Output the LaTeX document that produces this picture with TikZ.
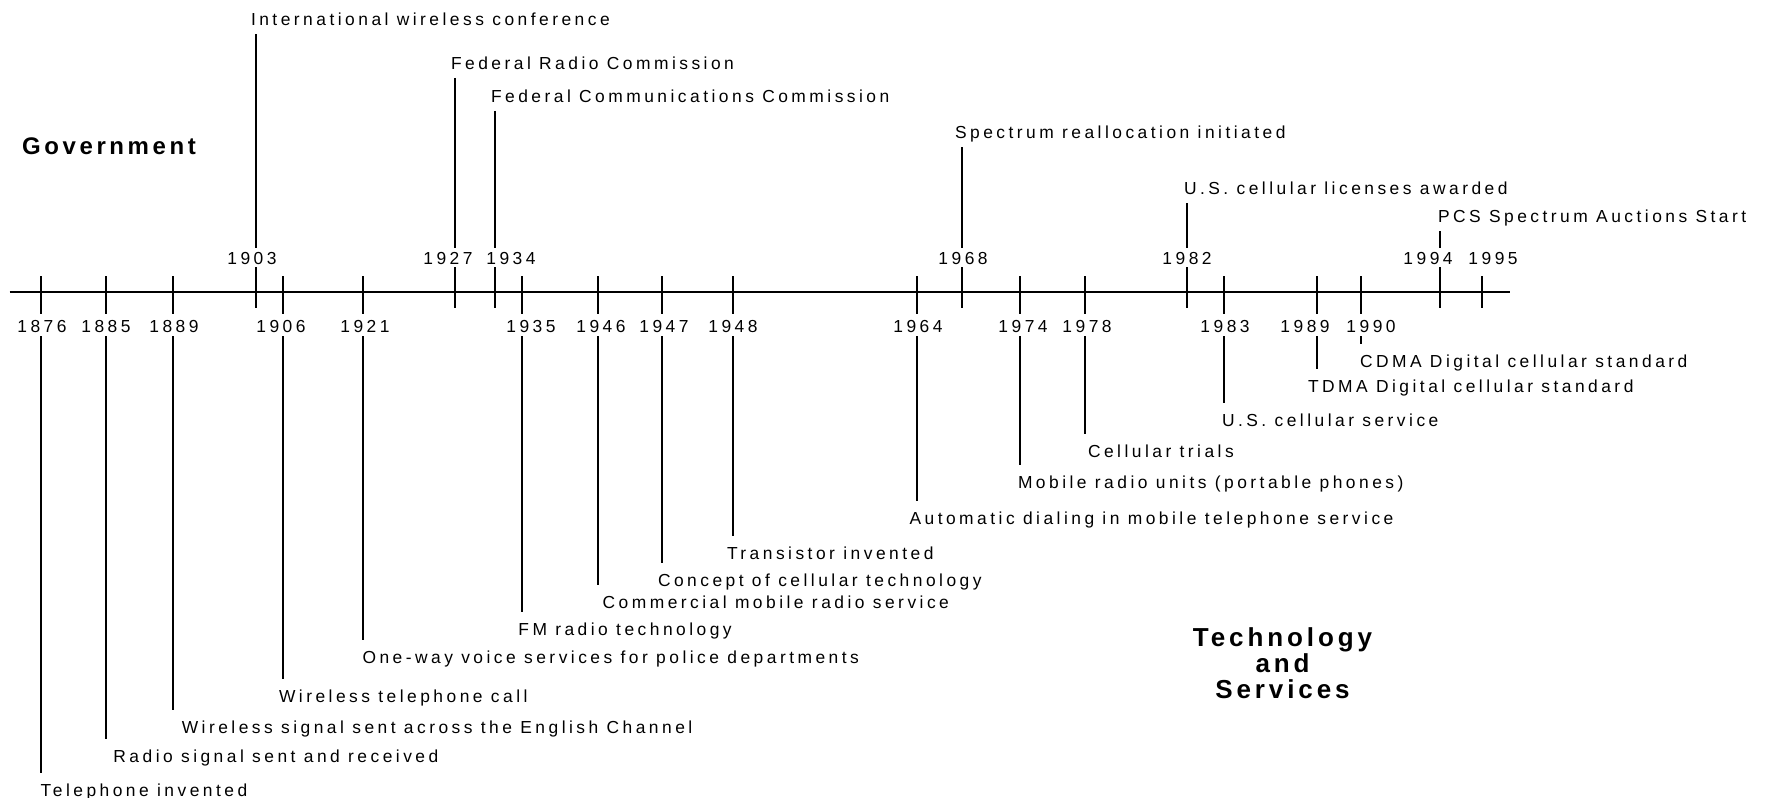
\documentclass[tikz,border=0pt]{standalone}
\usepackage{fontspec}
\newfontfamily\labelfont[LetterSpace=20]{Liberation Sans}
\newfontfamily\headfont[LetterSpace=15]{Liberation Sans}

\begin{document}
\begin{tikzpicture}[
  x=0.5pt, y=-0.5pt,
  axis/.style={line width=1.3pt},
  tick/.style={line width=1pt},
  stem/.style={line width=1pt},
  yearlabel/.style={
    font=\labelfont\fontsize{8.7}{10}\selectfont,
    inner sep=0pt,
    text height=6.2pt,
    text depth=0pt,
    outer sep=2pt
  },
  eventlabel/.style={
    font=\labelfont\fontsize{8.7}{10}\selectfont,
    anchor=west,
    inner sep=0pt,
    text height=6.2pt,
    text depth=0pt,
    outer xsep=0pt
  },
  govlabel/.style={eventlabel, outer ysep=4.4pt},
  techlabel/.style={eventlabel, outer ysep=5.6pt},
  heading/.style={
    align=center,
    inner sep=0pt
  }
]
\useasboundingbox (0,0) rectangle (1765,797);

% Axis
\draw[axis] (9.6,292) -- (1510,292);

% Headings
\node[heading, font=\headfont\bfseries\fontsize{12}{13}\selectfont] (gov) at (109,146.5) {Government};
\node[heading, font=\headfont\bfseries\fontsize{13}{13}\selectfont] (tech) at (1282.5,663) {Technology\\and\\Services};

% Tick positions on the axis
\coordinate (t1876) at (41,292);
\coordinate (t1885) at (105.6,292);
\coordinate (t1889) at (173,292);
\coordinate (t1903) at (255.6,292);
\coordinate (t1906) at (283.2,292);
\coordinate (t1921) at (362.8,292);
\coordinate (t1927) at (455.4,292);
\coordinate (t1934) at (495.2,292);
\coordinate (t1935) at (522.4,292);
\coordinate (t1946) at (597.5,292);
\coordinate (t1947) at (662.3,292);
\coordinate (t1948) at (732.7,292);
\coordinate (t1964) at (917.2,292);
\coordinate (t1968) at (961.9,292);
\coordinate (t1974) at (1019.7,292);
\coordinate (t1978) at (1085.2,292);
\coordinate (t1982) at (1187,292);
\coordinate (t1983) at (1224.4,292);
\coordinate (t1989) at (1316.6,292);
\coordinate (t1990) at (1361.4,292);
\coordinate (t1994) at (1439.7,292);
\coordinate (t1995) at (1482.1,292);

% Ticks
\draw[tick] (t1903) ++(0,-25) -- ++(0,41);
\draw[tick] (t1927) ++(0,-25) -- ++(0,41);
\draw[tick] (t1934) ++(0,-25) -- ++(0,41);
\draw[tick] (t1968) ++(0,-25) -- ++(0,41);
\draw[tick] (t1982) ++(0,-25) -- ++(0,41);
\draw[tick] (t1994) ++(0,-25) -- ++(0,41);
\draw[tick] (t1995) ++(0,-16) -- ++(0,32);
\draw[tick] (t1876) ++(0,-16) -- ++(0,38);
\draw[tick] (t1885) ++(0,-16) -- ++(0,38);
\draw[tick] (t1889) ++(0,-16) -- ++(0,38);
\draw[tick] (t1906) ++(0,-16) -- ++(0,38);
\draw[tick] (t1921) ++(0,-16) -- ++(0,38);
\draw[tick] (t1935) ++(0,-16) -- ++(0,38);
\draw[tick] (t1946) ++(0,-16) -- ++(0,38);
\draw[tick] (t1947) ++(0,-16) -- ++(0,38);
\draw[tick] (t1948) ++(0,-16) -- ++(0,38);
\draw[tick] (t1964) ++(0,-16) -- ++(0,38);
\draw[tick] (t1974) ++(0,-16) -- ++(0,38);
\draw[tick] (t1978) ++(0,-16) -- ++(0,38);
\draw[tick] (t1983) ++(0,-16) -- ++(0,38);
\draw[tick] (t1989) ++(0,-16) -- ++(0,38);
\draw[tick] (t1990) ++(0,-16) -- ++(0,38);

% Years above the axis
\node[yearlabel] (y1903) at (252,258.5)   {1903};
\node[yearlabel] (y1927) at (448,258.5)   {1927};
\node[yearlabel] (y1934) at (511,258.5)   {1934};
\node[yearlabel] (y1968) at (963,258.5)   {1968};
\node[yearlabel] (y1982) at (1187,258.5)  {1982};
\node[yearlabel] (y1994) at (1428,258.5)  {1994};
\node[yearlabel] (y1995) at (1493,258.5)  {1995};

% Years below the axis
\node[yearlabel] (y1876) at (42,326)     {1876};
\node[yearlabel] (y1885) at (106,326)    {1885};
\node[yearlabel] (y1889) at (174,326)    {1889};
\node[yearlabel] (y1906) at (281,326)    {1906};
\node[yearlabel] (y1921) at (365,326)    {1921};
\node[yearlabel] (y1935) at (531,326)    {1935};
\node[yearlabel] (y1946) at (601,326)    {1946};
\node[yearlabel] (y1947) at (664,326)    {1947};
\node[yearlabel] (y1948) at (733,326)    {1948};
\node[yearlabel] (y1964) at (918,326)    {1964};
\node[yearlabel] (y1974) at (1023,326)   {1974};
\node[yearlabel] (y1978) at (1087,326)   {1978};
\node[yearlabel] (y1983) at (1225,326)   {1983};
\node[yearlabel] (y1989) at (1305,326)   {1989};
\node[yearlabel] (y1990) at (1371,326)   {1990};

% Government events
\node[govlabel] (e1903) at (251,19.5) {International wireless conference};
\node[govlabel] (e1927) at (451,63)   {Federal Radio Commission};
\node[govlabel] (e1934) at (491,96)   {Federal Communications Commission};
\node[govlabel] (e1968) at (955,132)  {Spectrum reallocation initiated};
\node[govlabel] (e1982) at (1184,188) {U.S. cellular licenses awarded};
\node[govlabel] (e1994) at (1438,216) {PCS Spectrum Auctions Start};

% Technology and services events
\node[techlabel] (e1876) at (40.7,790)    {Telephone invented};
\node[techlabel] (e1885) at (113.4,756.7) {Radio signal sent and received};
\node[techlabel] (e1889) at (181.8,727.7) {Wireless signal sent across the English Channel};
\node[techlabel] (e1906) at (279,696)     {Wireless telephone call};
\node[techlabel] (e1921) at (362.5,657)   {One-way voice services for police departments};
\node[techlabel] (e1935) at (518.4,629)   {FM radio technology};
\node[techlabel] (e1946) at (602.6,602.7) {Commercial mobile radio service};
\node[techlabel] (e1947) at (658,580)     {Concept of cellular technology};
\node[techlabel] (e1948) at (727,553)     {Transistor invented};
\node[techlabel] (e1964) at (909.5,518)   {Automatic dialing in mobile telephone service};
\node[techlabel] (e1974) at (1018,482.7)  {Mobile radio units (portable phones)};
\node[techlabel] (e1978) at (1088,451.7)  {Cellular trials};
\node[techlabel] (e1983) at (1222,420.7)  {U.S. cellular service};
\node[techlabel] (e1989) at (1308,386)    {TDMA Digital cellular standard};
\node[techlabel] (e1990) at (1360,361.7)  {CDMA Digital cellular standard};

% Stems above the axis
\draw[stem] (e1903.south -| t1903) -- (y1903.north -| t1903);
\draw[stem] (e1927.south -| t1927) -- (y1927.north -| t1927);
\draw[stem] (e1934.south -| t1934) -- (y1934.north -| t1934);
\draw[stem] (e1968.south -| t1968) -- (y1968.north -| t1968);
\draw[stem] (e1982.south -| t1982) -- (y1982.north -| t1982);
\draw[stem] (e1994.south -| t1994) -- (y1994.north -| t1994);

% Stems below the axis
\draw[stem] (y1876.south -| t1876) -- (e1876.north -| t1876);
\draw[stem] (y1885.south -| t1885) -- (e1885.north -| t1885);
\draw[stem] (y1889.south -| t1889) -- (e1889.north -| t1889);
\draw[stem] (y1906.south -| t1906) -- (e1906.north -| t1906);
\draw[stem] (y1921.south -| t1921) -- (e1921.north -| t1921);
\draw[stem] (y1935.south -| t1935) -- (e1935.north -| t1935);
\draw[stem] (y1946.south -| t1946) -- (e1946.north -| t1946);
\draw[stem] (y1947.south -| t1947) -- (e1947.north -| t1947);
\draw[stem] (y1948.south -| t1948) -- (e1948.north -| t1948);
\draw[stem] (y1964.south -| t1964) -- (e1964.north -| t1964);
\draw[stem] (y1974.south -| t1974) -- (e1974.north -| t1974);
\draw[stem] (y1978.south -| t1978) -- (e1978.north -| t1978);
\draw[stem] (y1983.south -| t1983) -- (e1983.north -| t1983);
\draw[stem] (y1989.south -| t1989) -- (e1989.north -| t1989);
\draw[stem] (y1990.south -| t1990) -- (e1990.north -| t1990);

\end{tikzpicture}
\end{document}
